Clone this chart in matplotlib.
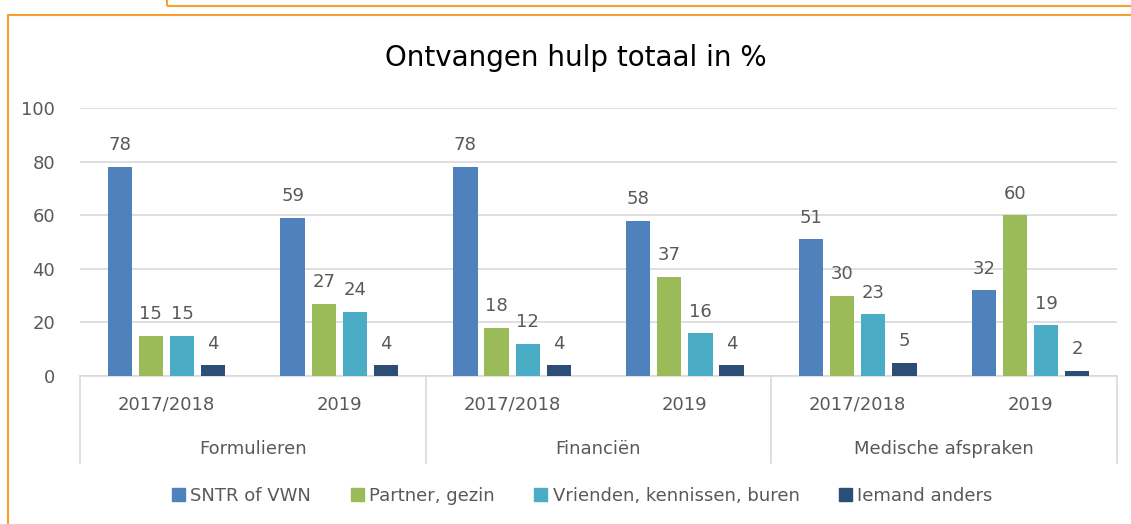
import matplotlib.pyplot as plt
from matplotlib.patches import Rectangle
from matplotlib.lines import Line2D
import numpy as np

# Data
categories = ["Formulieren", "Financiën", "Medische afspraken"]
periods = ["2017/2018", "2019"]
series_names = ["SNTR of VWN", "Partner, gezin", "Vrienden, kennissen, buren", "Iemand anders"]
sntr = [78, 59, 78, 58, 51, 32]
partner = [15, 27, 18, 37, 30, 60]
vrienden = [15, 24, 12, 16, 23, 19]
iemand = [4, 4, 4, 4, 5, 2]
colors = ["#4F81BD", "#9BBB59", "#4BACC6", "#2C4D75"]

text_col = "#595959"
grid_col = "#D9D9D9"
orange = "#F7A030"

plt.rcParams['font.family'] = ['DejaVu Sans']

fig = plt.figure(figsize=(11.31, 5.24), dpi=100)
ax = fig.add_axes([80 / 1131, 1 - 376 / 524, 1037 / 1131, 268 / 524])

x = np.arange(len(sntr))
width = 0.14
step = 0.18
all_series = [sntr, partner, vrienden, iemand]
for i, vals in enumerate(all_series):
    bars = ax.bar(x + (i - 1.5) * step, vals, width, color=colors[i], zorder=3)
    ax.bar_label(bars, padding=9, fontsize=13, color=text_col)

ax.set_xlim(-0.5, len(sntr) - 0.5)
ax.set_ylim(0, 100)
ax.set_yticks(range(0, 101, 20))
ax.tick_params(axis='y', length=0, labelsize=13, labelcolor=text_col, pad=18)
ax.set_xticks([])
ax.grid(axis='y', color=grid_col, linewidth=1.2, zorder=0)
for s in ["left", "right", "top"]:
    ax.spines[s].set_visible(False)
ax.spines["bottom"].set_color(grid_col)
ax.spines["bottom"].set_linewidth(1.2)

# hierarchical axis labels
trans = ax.get_xaxis_transform()
for j, xx in enumerate(x):
    ax.text(xx, -0.108, periods[j % 2], transform=trans, ha='center', va='center',
            fontsize=13, color=text_col)
for k, cat in enumerate(categories):
    ax.text(2 * k + 0.5, -0.272, cat, transform=trans, ha='center', va='center',
            fontsize=13, color=text_col)
for b in [-0.5, 1.5, 3.5, 5.5]:
    ax.add_line(Line2D([b, b], [0, -0.325], transform=trans, color=grid_col,
                       linewidth=1.2, clip_on=False))

fig.text(576 / 1131, 1 - 58 / 524, "Ontvangen hulp totaal in %", ha='center', va='center',
         fontsize=20, color="#000000")

handles = [Rectangle((0, 0), 1, 1, color=c) for c in colors]
fig.legend(handles, series_names, loc='center', bbox_to_anchor=(0.515, 1 - 496 / 524),
           ncol=4, frameon=False, fontsize=13, labelcolor=text_col,
           handlelength=0.7, handleheight=0.7, handletextpad=0.3, columnspacing=2.2)

# orange frames
fig.add_artist(Rectangle((8 / 1131, -0.05), 1.1, 1 - 15 / 524 + 0.05,
                         transform=fig.transFigure, fill=False, edgecolor=orange,
                         linewidth=1.5))
fig.add_artist(Rectangle((167 / 1131, 1 - 6 / 524), 1.0, 0.1,
                         transform=fig.transFigure, fill=False, edgecolor=orange,
                         linewidth=1.5))

fig.savefig("out.png", dpi=100)
